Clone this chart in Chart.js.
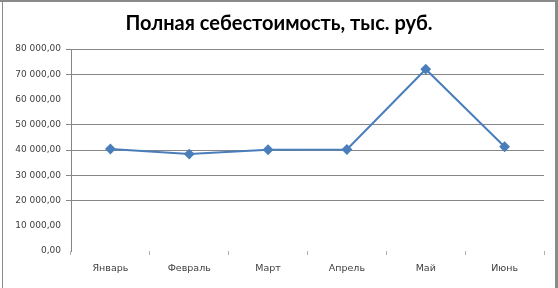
<!DOCTYPE html>
<html>
<head>
<meta charset="utf-8">
<script src="https://cdn.jsdelivr.net/npm/chart.js@4"></script>
<style>
  html, body { margin: 0; padding: 0; background: #fff; }
  #wrap { width: 558px; height: 288px; position: relative; }
</style>
</head>
<body>
<div id="wrap"><canvas id="costChart" width="558" height="288"></canvas></div>
<script>
const months = ['Январь', 'Февраль', 'Март', 'Апрель', 'Май', 'Июнь'];
const fullCost = [40400, 38400, 40100, 40200, 72000, 41300];
const yTicks = [0, 10000, 20000, 30000, 40000, 50000, 60000, 70000, 80000];
const hiddenGrid = [0, 10000, 60000]; // these lines are not visible in the picture

function fmt(v) {
    const s = Math.round(v).toString().replace(/\B(?=(\d{3})+(?!\d))/g, ' ');
    return s + ',00';
}

// grey frame round the picture
const framePlugin = {
    id: 'frame',
    beforeDraw(chart) {
        const c = chart.ctx;
        c.save();
        c.fillStyle = '#fff';
        c.fillRect(0, 0, chart.width, chart.height);
        c.fillStyle = '#8a8a8a';
        c.fillRect(0, 0, 558, 2);
        c.fillRect(555, 0, 3, 288);
        c.fillRect(2, 0, 1, 288);
        c.restore();
    }
};

const ctx = document.getElementById('costChart').getContext('2d');
new Chart(ctx, {
    type: 'line',
    data: {
        labels: months,
        datasets: [{
            data: fullCost,
            borderColor: '#4a7ebb',
            backgroundColor: '#4a7ebb',
            borderWidth: 2,
            pointStyle: 'rectRot',
            pointRadius: 4,
            pointHoverRadius: 4,
            tension: 0
        }]
    },
    options: {
        responsive: false,
        animation: false,
        layout: { padding: { left: 14, right: 14, top: 0, bottom: 0 } },
        plugins: {
            legend: { display: false },
            tooltip: { enabled: false },
            title: {
                display: true,
                text: 'Полная себестоимость, тыс. руб.',
                color: '#000',
                font: { family: 'Lato', size: 20, weight: 'bold', lineHeight: 1.2 },
                padding: { top: 12, bottom: 13 }
            }
        },
        scales: {
            x: {
                offset: true,
                border: { display: false },
                grid: {
                    offset: true,
                    drawOnChartArea: false,
                    drawTicks: true,
                    tickLength: 4,
                    color: '#b0b0b0'
                },
                ticks: {
                    color: '#404040',
                    font: { family: 'DejaVu Sans', size: 9.5 },
                    padding: 8,
                    maxRotation: 0
                },
                afterFit(s) { s.height = 37; }
            },
            y: {
                min: 0,
                max: 80000,
                afterBuildTicks(s) { s.ticks = yTicks.map(v => ({ value: v })); },
                border: { display: true, color: '#868686', width: 1 },
                grid: {
                    color: c => hiddenGrid.includes(c.tick && c.tick.value) ? 'rgba(0,0,0,0)' : '#868686',
                    tickLength: 5,
                    lineWidth: 1
                },
                ticks: {
                    color: '#404040',
                    font: { family: 'DejaVu Sans', size: 9 },
                    padding: 5,
                    callback: v => fmt(v)
                },
                afterFit(s) { s.width = 57; }
            }
        }
    },
    plugins: [framePlugin]
});
</script>
</body>
</html>
